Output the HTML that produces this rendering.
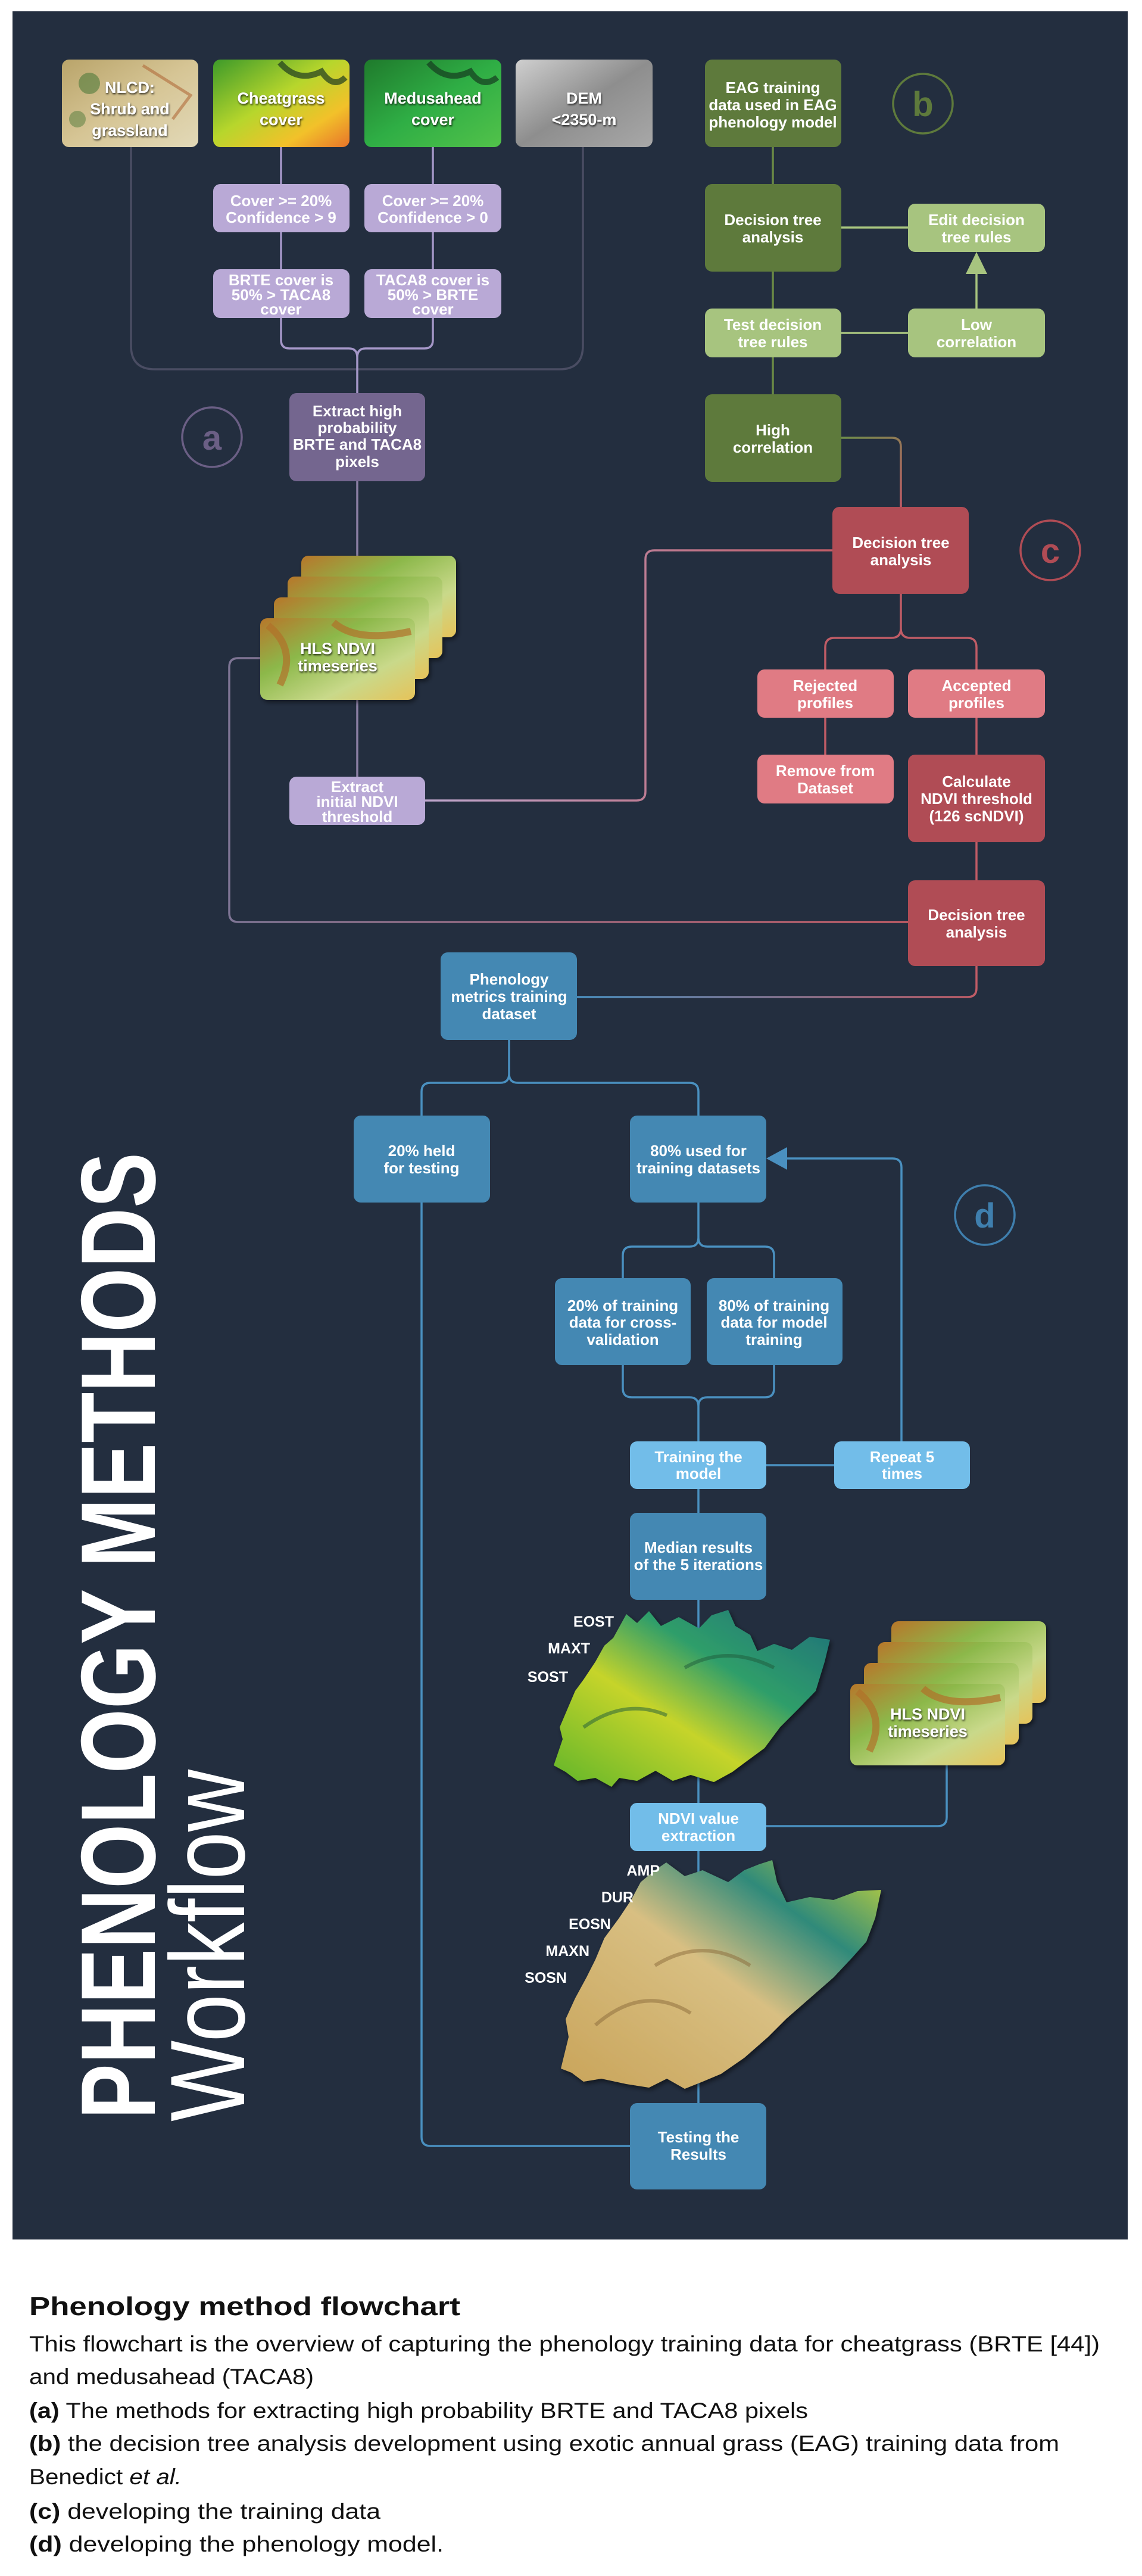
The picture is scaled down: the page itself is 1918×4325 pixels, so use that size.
<!DOCTYPE html>
<html><head><meta charset="utf-8"><style>
html,body{margin:0;padding:0;background:#fff;}
svg{display:block;}
.bt{font-family:"Liberation Sans Narrow","Liberation Sans",sans-serif;font-weight:bold;font-size:26px;fill:#fff;text-anchor:middle;}
.lbl{font-family:"Liberation Sans Narrow","Liberation Sans",sans-serif;font-weight:bold;font-size:25px;fill:#fff;text-anchor:end;}
.cap{font-family:"Liberation Sans",sans-serif;fill:#111;}
</style></head><body>
<svg width="1918" height="4325" viewBox="0 0 1918 4325" xmlns="http://www.w3.org/2000/svg">
<defs>
<linearGradient id="gNL" x1="0" y1="0" x2="1" y2="1"><stop offset="0" stop-color="#b9a46a"/><stop offset="0.5" stop-color="#d6c595"/><stop offset="1" stop-color="#e2d9b8"/></linearGradient>
<linearGradient id="gCH" x1="0" y1="0" x2="1" y2="1"><stop offset="0" stop-color="#3d9a2a"/><stop offset="0.45" stop-color="#b7d62c"/><stop offset="0.75" stop-color="#f2c12a"/><stop offset="1" stop-color="#e8742a"/></linearGradient>
<linearGradient id="gME" x1="0" y1="0" x2="1" y2="1"><stop offset="0" stop-color="#1f7a2c"/><stop offset="0.5" stop-color="#2fae45"/><stop offset="1" stop-color="#52c24a"/></linearGradient>
<linearGradient id="gDE" x1="0" y1="0" x2="1" y2="1"><stop offset="0" stop-color="#cfcfcf"/><stop offset="0.5" stop-color="#8e8e8e"/><stop offset="1" stop-color="#a8a8a8"/></linearGradient>
<linearGradient id="gHL" x1="0" y1="0" x2="1" y2="1"><stop offset="0" stop-color="#b8762a"/><stop offset="0.35" stop-color="#8cb84a"/><stop offset="0.7" stop-color="#c9d98a"/><stop offset="1" stop-color="#e6c35a"/></linearGradient>
<linearGradient id="gT1" x1="0" y1="1" x2="1" y2="0"><stop offset="0" stop-color="#5fb52a"/><stop offset="0.4" stop-color="#c6d42a"/><stop offset="0.65" stop-color="#2f9e6a"/><stop offset="1" stop-color="#1f6f7a"/></linearGradient>
<linearGradient id="gT2" x1="0" y1="1" x2="1" y2="0"><stop offset="0" stop-color="#c9a45a"/><stop offset="0.5" stop-color="#d8bf82"/><stop offset="0.75" stop-color="#2f8a7a"/><stop offset="1" stop-color="#c8d43a"/></linearGradient>
<linearGradient id="gGR" gradientUnits="userSpaceOnUse" x1="1413" y1="735" x2="1513" y2="851"><stop offset="0" stop-color="#6f8f4a"/><stop offset="1" stop-color="#c05c66"/></linearGradient>
<linearGradient id="gRL" gradientUnits="userSpaceOnUse" x1="1398" y1="0" x2="714" y2="0"><stop offset="0" stop-color="#c05c66"/><stop offset="1" stop-color="#b9a3c9"/></linearGradient>
<linearGradient id="gLR" gradientUnits="userSpaceOnUse" x1="385" y1="0" x2="1525" y2="0"><stop offset="0" stop-color="#7e7595"/><stop offset="1" stop-color="#c05c66"/></linearGradient>
<linearGradient id="gRB" gradientUnits="userSpaceOnUse" x1="1640" y1="0" x2="969" y2="0"><stop offset="0" stop-color="#c05c66"/><stop offset="1" stop-color="#4a90c0"/></linearGradient>
<filter id="sh" x="-20%" y="-20%" width="140%" height="140%"><feDropShadow dx="3" dy="4" stdDeviation="4" flood-color="#000" flood-opacity="0.5"/></filter>
<filter id="ts"><feDropShadow dx="1" dy="2" stdDeviation="1.5" flood-color="#000" flood-opacity="0.8"/></filter>
</defs>
<rect width="1918" height="4325" fill="#fff"/>
<rect x="21" y="19" width="1873" height="3741" fill="#232e3f"/>

<g fill="none" stroke-width="3.5">
<path d="M220,247 V580 Q220,620 260,620 H940 Q979,620 979,580 V247" stroke="#4a4d63"/>
<path d="M472,247 V309 M472,390 V452 M727,247 V309 M727,390 V452" stroke="#a597c8"/>
<path d="M472,534 V571 Q472,585 486,585 H586 Q600,585 600,600 V660 M727,534 V571 Q727,585 713,585 H614 Q600,585 600,600" stroke="#a597c8"/>
<path d="M600,808 V1304" stroke="#8a7fa3"/>
<path d="M1298,247 V309 M1298,456 V518 M1298,600 V662" stroke="#6b8a45"/>
<path d="M1413,382 H1525 M1413,559 H1525 M1640,518 V455" stroke="#a7c47f"/>
<path d="M1413,735 H1498 Q1513,735 1513,750 V851" stroke="url(#gGR)"/>
<path d="M1398,924 H1099 Q1084,924 1084,939 V1329 Q1084,1344 1069,1344 H714" stroke="url(#gRL)"/>
<path d="M1513,997 V1055 Q1513,1071 1497,1071 H1401 Q1386,1071 1386,1087 V1124 M1513,1055 Q1513,1071 1529,1071 H1625 Q1640,1071 1640,1087 V1124" stroke="#c05c66"/>
<path d="M1386,1205 V1267 M1640,1205 V1267 M1640,1414 V1478" stroke="#c05c66"/>
<path d="M437,1105 H400 Q385,1105 385,1120 V1533 Q385,1548 400,1548 H1525" stroke="url(#gLR)"/>
<path d="M1640,1622 V1659 Q1640,1674 1625,1674 H969" stroke="url(#gRB)"/>
<g stroke="#4a90c0">
<path d="M855,1746 V1803 Q855,1818 840,1818 H723 Q708,1818 708,1833 V1873 M855,1803 Q855,1818 870,1818 H1158 Q1173,1818 1173,1833 V1873"/>
<path d="M708,2019 V3588 Q708,3603 723,3603 H1058"/>
<path d="M1173,2019 V2078 Q1173,2093 1158,2093 H1061 Q1046,2093 1046,2108 V2146 M1173,2078 Q1173,2093 1188,2093 H1285 Q1300,2093 1300,2108 V2146"/>
<path d="M1046,2292 V2331 Q1046,2346 1061,2346 H1158 Q1173,2346 1173,2361 V2420 M1300,2292 V2331 Q1300,2346 1285,2346 H1188 Q1173,2346 1173,2361"/>
<path d="M1287,2460 H1401 M1514,2420 V1960 Q1514,1945 1499,1945 H1315"/>
<path d="M1173,2500 V3531"/>
<path d="M1590,2964 V3051 Q1590,3066 1575,3066 H1287"/>
</g>
</g>
<polygon points="1640,423 1622,460 1658,460" fill="#a7c47f"/>
<polygon points="1287,1945 1322,1926 1322,1964" fill="#4a90c0"/>

<rect x="104" y="100" width="229" height="147" rx="12" fill="url(#gNL)"/>
<circle cx="150" cy="140" r="18" fill="#4f7a3a" opacity="0.6"/><circle cx="130" cy="200" r="14" fill="#4f7a3a" opacity="0.5"/><path d="M240,110 L320,160 L290,200" stroke="#b06a3a" stroke-width="5" fill="none" opacity="0.6"/>
<rect x="358" y="100" width="229" height="147" rx="12" fill="url(#gCH)"/>
<path d="M470,105 Q500,140 540,120 Q560,150 580,130" stroke="#1e3a20" stroke-width="10" fill="none" opacity="0.7"/>
<rect x="612" y="100" width="230" height="147" rx="12" fill="url(#gME)"/>
<path d="M720,105 Q750,140 790,120 Q810,150 835,130" stroke="#163a20" stroke-width="10" fill="none" opacity="0.7"/>
<rect x="866" y="100" width="230" height="147" rx="12" fill="url(#gDE)"/>
<g filter="url(#ts)">
<text class="bt" style="font-size:27px"><tspan x="218" y="156">NLCD:</tspan><tspan x="218" y="192">Shrub and</tspan><tspan x="218" y="228">grassland</tspan></text>
<text class="bt" style="font-size:27px"><tspan x="472" y="174">Cheatgrass</tspan><tspan x="472" y="210">cover</tspan></text>
<text class="bt" style="font-size:27px"><tspan x="727" y="174">Medusahead</tspan><tspan x="727" y="210">cover</tspan></text>
<text class="bt" style="font-size:27px"><tspan x="981" y="174">DEM</tspan><tspan x="981" y="210">&lt;2350-m</tspan></text>
</g>

<rect x="358" y="309" width="229" height="81" rx="12" fill="#b9a9d6"/>
<rect x="612" y="309" width="230" height="81" rx="12" fill="#b9a9d6"/>
<rect x="358" y="452" width="229" height="82" rx="12" fill="#b9a9d6"/>
<rect x="612" y="452" width="230" height="82" rx="12" fill="#b9a9d6"/>
<text class="bt"><tspan x="472" y="346">Cover &gt;= 20%</tspan><tspan x="472" y="374">Confidence &gt; 9</tspan></text>
<text class="bt"><tspan x="727" y="346">Cover &gt;= 20%</tspan><tspan x="727" y="374">Confidence &gt; 0</tspan></text>
<text class="bt"><tspan x="472" y="479">BRTE cover is</tspan><tspan x="472" y="504">50% &gt; TACA8</tspan><tspan x="472" y="528">cover</tspan></text>
<text class="bt"><tspan x="727" y="479">TACA8 cover is</tspan><tspan x="727" y="504">50% &gt; BRTE</tspan><tspan x="727" y="528">cover</tspan></text>
<rect x="486" y="660" width="228" height="148" rx="12" fill="#74668f"/>
<text class="bt"><tspan x="600" y="699">Extract high</tspan><tspan x="600" y="727">probability</tspan><tspan x="600" y="755">BRTE and TACA8</tspan><tspan x="600" y="784">pixels</tspan></text>
<circle cx="356" cy="734" r="50" fill="none" stroke="#6b5f85" stroke-width="3.5"/>
<text x="356" y="755" class="bt" style="font-size:58px;fill:#6b5f85">a</text>

<g filter="url(#sh)">
<rect x="506" y="933" width="260" height="137" rx="12" fill="url(#gHL)"/>
<rect x="483" y="968" width="260" height="137" rx="12" fill="url(#gHL)"/>
<rect x="460" y="1003" width="260" height="137" rx="12" fill="url(#gHL)"/>
<rect x="437" y="1038" width="260" height="137" rx="12" fill="url(#gHL)"/>
</g>
<path d="M450,1050 Q500,1090 470,1150 M560,1045 Q600,1080 690,1060" stroke="#b0702a" stroke-width="12" fill="none" opacity="0.7"/>
<g filter="url(#ts)"><text class="bt" style="font-size:27px"><tspan x="567" y="1098">HLS NDVI</tspan><tspan x="567" y="1127">timeseries</tspan></text></g>

<rect x="486" y="1304" width="228" height="81" rx="12" fill="#b9a9d6"/>
<text class="bt"><tspan x="600" y="1330">Extract</tspan><tspan x="600" y="1355">initial NDVI</tspan><tspan x="600" y="1380">threshold</tspan></text>

<rect x="1184" y="100" width="229" height="147" rx="12" fill="#5e7a3c"/>
<text class="bt"><tspan x="1298" y="156">EAG training</tspan><tspan x="1298" y="185">data used in EAG</tspan><tspan x="1298" y="214">phenology model</tspan></text>
<circle cx="1550" cy="174" r="50" fill="none" stroke="#5e7a3c" stroke-width="3.5"/>
<text x="1550" y="195" class="bt" style="font-size:58px;fill:#5e7a3c">b</text>
<rect x="1184" y="309" width="229" height="147" rx="12" fill="#5e7a3c"/>
<text class="bt"><tspan x="1298" y="378">Decision tree</tspan><tspan x="1298" y="407">analysis</tspan></text>
<rect x="1525" y="342" width="230" height="81" rx="12" fill="#a7c47f"/>
<text class="bt"><tspan x="1640" y="378">Edit decision</tspan><tspan x="1640" y="407">tree rules</tspan></text>
<rect x="1184" y="518" width="229" height="82" rx="12" fill="#a7c47f"/>
<text class="bt"><tspan x="1298" y="554">Test decision</tspan><tspan x="1298" y="583">tree rules</tspan></text>
<rect x="1525" y="518" width="230" height="82" rx="12" fill="#a7c47f"/>
<text class="bt"><tspan x="1640" y="554">Low</tspan><tspan x="1640" y="583">correlation</tspan></text>
<rect x="1184" y="662" width="229" height="147" rx="12" fill="#5e7a3c"/>
<text class="bt"><tspan x="1298" y="731">High</tspan><tspan x="1298" y="760">correlation</tspan></text>

<rect x="1398" y="851" width="229" height="146" rx="12" fill="#b04c55"/>
<text class="bt"><tspan x="1513" y="920">Decision tree</tspan><tspan x="1513" y="949">analysis</tspan></text>
<circle cx="1764" cy="924" r="50" fill="none" stroke="#b04c55" stroke-width="3.5"/>
<text x="1764" y="945" class="bt" style="font-size:58px;fill:#b04c55">c</text>
<rect x="1272" y="1124" width="229" height="81" rx="12" fill="#e07b84"/>
<text class="bt"><tspan x="1386" y="1160">Rejected</tspan><tspan x="1386" y="1189">profiles</tspan></text>
<rect x="1525" y="1124" width="230" height="81" rx="12" fill="#e07b84"/>
<text class="bt"><tspan x="1640" y="1160">Accepted</tspan><tspan x="1640" y="1189">profiles</tspan></text>
<rect x="1272" y="1267" width="229" height="82" rx="12" fill="#e07b84"/>
<text class="bt"><tspan x="1386" y="1303">Remove from</tspan><tspan x="1386" y="1332">Dataset</tspan></text>
<rect x="1525" y="1267" width="230" height="147" rx="12" fill="#b04c55"/>
<text class="bt"><tspan x="1640" y="1321">Calculate</tspan><tspan x="1640" y="1350">NDVI threshold</tspan><tspan x="1640" y="1379">(126 scNDVI)</tspan></text>
<rect x="1525" y="1478" width="230" height="144" rx="12" fill="#b04c55"/>
<text class="bt"><tspan x="1640" y="1545">Decision tree</tspan><tspan x="1640" y="1574">analysis</tspan></text>

<rect x="740" y="1599" width="229" height="147" rx="12" fill="#4488b3"/>
<text class="bt"><tspan x="855" y="1653">Phenology</tspan><tspan x="855" y="1682">metrics training</tspan><tspan x="855" y="1711">dataset</tspan></text>
<rect x="594" y="1873" width="229" height="146" rx="12" fill="#4488b3"/>
<text class="bt"><tspan x="708" y="1941">20% held</tspan><tspan x="708" y="1970">for testing</tspan></text>
<rect x="1058" y="1873" width="229" height="146" rx="12" fill="#4488b3"/>
<text class="bt"><tspan x="1173" y="1941">80% used for</tspan><tspan x="1173" y="1970">training datasets</tspan></text>
<circle cx="1654" cy="2040" r="50" fill="none" stroke="#3f7fae" stroke-width="3.5"/>
<text x="1654" y="2061" class="bt" style="font-size:58px;fill:#3f7fae">d</text>
<rect x="932" y="2146" width="228" height="146" rx="12" fill="#4488b3"/>
<text class="bt"><tspan x="1046" y="2201">20% of training</tspan><tspan x="1046" y="2229">data for cross-</tspan><tspan x="1046" y="2258">validation</tspan></text>
<rect x="1187" y="2146" width="228" height="146" rx="12" fill="#4488b3"/>
<text class="bt"><tspan x="1300" y="2201">80% of training</tspan><tspan x="1300" y="2229">data for model</tspan><tspan x="1300" y="2258">training</tspan></text>
<rect x="1058" y="2420" width="229" height="80" rx="12" fill="#72bde9"/>
<text class="bt"><tspan x="1173" y="2455">Training the</tspan><tspan x="1173" y="2483">model</tspan></text>
<rect x="1401" y="2420" width="228" height="80" rx="12" fill="#72bde9"/>
<text class="bt"><tspan x="1515" y="2455">Repeat 5</tspan><tspan x="1515" y="2483">times</tspan></text>
<rect x="1058" y="2540" width="229" height="146" rx="12" fill="#4488b3"/>
<text class="bt"><tspan x="1173" y="2607">Median results</tspan><tspan x="1173" y="2636">of the 5 iterations</tspan></text>

<polygon filter="url(#sh)" fill="url(#gT1)" points="930,2964 945,2920 940,2900 966,2839 980,2820 1000,2790 1015,2763 1030,2750 1052,2710 1070,2725 1090,2705 1110,2730 1140,2715 1174,2734 1195,2712 1223,2703 1235,2730 1260,2745 1272,2772 1300,2760 1330,2770 1360,2748 1394,2753 1385,2790 1370,2839 1340,2870 1310,2900 1284,2935 1250,2960 1230,2975 1199,2992 1160,2980 1130,2990 1101,2973 1070,2990 1040,2985 1027,3000 1000,2985 970,2990 950,2975"/>
<path d="M980,2900 Q1050,2850 1120,2880 M1150,2800 Q1220,2760 1300,2800" stroke="#1d5a3a" stroke-width="6" fill="none" opacity="0.5"/>
<text x="1031" y="2731" class="lbl">EOST</text>
<text x="991" y="2776" class="lbl">MAXT</text>
<text x="954" y="2824" class="lbl">SOST</text>

<g filter="url(#sh)">
<rect x="1497" y="2722" width="260" height="137" rx="12" fill="url(#gHL)"/>
<rect x="1474" y="2757" width="260" height="137" rx="12" fill="url(#gHL)"/>
<rect x="1451" y="2792" width="260" height="137" rx="12" fill="url(#gHL)"/>
<rect x="1428" y="2827" width="260" height="137" rx="12" fill="url(#gHL)"/>
</g>
<path d="M1440,2840 Q1490,2880 1460,2940 M1550,2835 Q1590,2870 1680,2850" stroke="#b0702a" stroke-width="12" fill="none" opacity="0.7"/>
<g filter="url(#ts)"><text class="bt" style="font-size:27px"><tspan x="1558" y="2887">HLS NDVI</tspan><tspan x="1558" y="2916">timeseries</tspan></text></g>

<rect x="1058" y="3027" width="229" height="81" rx="12" fill="#72bde9"/>
<text class="bt"><tspan x="1173" y="3062">NDVI value</tspan><tspan x="1173" y="3091">extraction</tspan></text>

<polygon filter="url(#sh)" fill="url(#gT2)" points="942,3473 955,3420 950,3390 966,3355 985,3320 1000,3290 1015,3254 1040,3220 1060,3190 1076,3160 1100,3140 1119,3127 1150,3150 1180,3140 1223,3160 1250,3140 1275,3130 1297,3123 1305,3160 1321,3194 1360,3185 1400,3190 1440,3175 1480,3173 1470,3220 1455,3260 1431,3287 1400,3320 1360,3355 1321,3389 1290,3420 1250,3455 1211,3482 1180,3495 1150,3507 1120,3490 1090,3505 1052,3499 1010,3490 980,3495 960,3480"/>
<path d="M1000,3400 Q1080,3330 1160,3380 M1100,3300 Q1180,3250 1260,3300" stroke="#8a6a3a" stroke-width="6" fill="none" opacity="0.5"/>
<text x="1108" y="3149" class="lbl">AMP</text>
<text x="1064" y="3194" class="lbl">DUR</text>
<text x="1026" y="3239" class="lbl">EOSN</text>
<text x="990" y="3284" class="lbl">MAXN</text>
<text x="952" y="3329" class="lbl">SOSN</text>

<rect x="1058" y="3531" width="229" height="145" rx="12" fill="#4488b3"/>
<text class="bt"><tspan x="1173" y="3597">Testing the</tspan><tspan x="1173" y="3626">Results</tspan></text>

<text transform="translate(260,3558) rotate(-90)" textLength="1623" lengthAdjust="spacingAndGlyphs" style="font-family:'Liberation Sans',sans-serif;font-weight:bold;font-size:178px;fill:#fff">PHENOLOGY METHODS</text>
<text transform="translate(410,3562) rotate(-90)" textLength="591" lengthAdjust="spacingAndGlyphs" style="font-family:'Liberation Sans',sans-serif;font-size:178px;fill:#fff">Workflow</text>

<text x="49" y="3887" class="cap" style="font-weight:bold;font-size:44px" textLength="724" lengthAdjust="spacingAndGlyphs">Phenology method flowchart</text>
<g class="cap" style="font-size:37px">
<text x="49" y="3948" textLength="1798" lengthAdjust="spacingAndGlyphs">This flowchart is the overview of capturing the phenology training data for cheatgrass (BRTE [44])</text>
<text x="49" y="4003" textLength="478" lengthAdjust="spacingAndGlyphs">and medusahead (TACA8)</text>
<text x="49" y="4060" textLength="1308" lengthAdjust="spacingAndGlyphs"><tspan font-weight="bold">(a)</tspan> The methods for extracting high probability BRTE and TACA8 pixels</text>
<text x="49" y="4115" textLength="1730" lengthAdjust="spacingAndGlyphs"><tspan font-weight="bold">(b)</tspan> the decision tree analysis development using exotic annual grass (EAG) training data from</text>
<text x="49" y="4171" textLength="256" lengthAdjust="spacingAndGlyphs">Benedict <tspan font-style="italic">et al.</tspan></text>
<text x="49" y="4229" textLength="590" lengthAdjust="spacingAndGlyphs"><tspan font-weight="bold">(c)</tspan> developing the training data</text>
<text x="49" y="4284" textLength="696" lengthAdjust="spacingAndGlyphs"><tspan font-weight="bold">(d)</tspan> developing the phenology model.</text>
</g>
</svg>
</body></html>
